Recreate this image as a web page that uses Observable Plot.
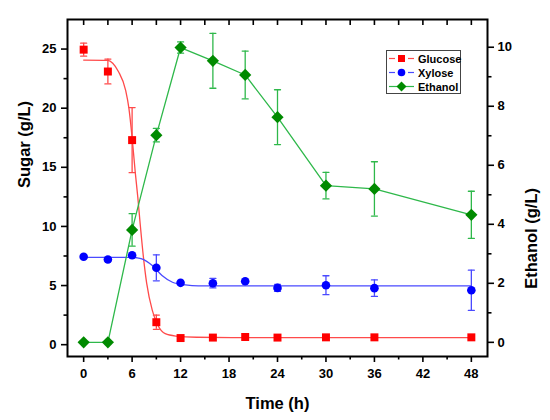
<!DOCTYPE html>
<html>
<head>
<meta charset="utf-8">
<script src="https://cdn.jsdelivr.net/npm/d3@7"></script>
<script src="https://cdn.jsdelivr.net/npm/@observablehq/plot@0.6"></script>
<style>
  html, body { margin: 0; padding: 0; background: #fff; }
  #wrap { position: relative; width: 550px; height: 420px; font-family: "Liberation Sans", Arial, sans-serif; }
  #legend { position: absolute; left: 386px; top: 50px; width: 73px; height: 42px; border: 1px solid #444; background: #fff; padding: 0; box-sizing: content-box; }
  #legend .row { position: absolute; left: 0; height: 14px; display: flex; align-items: center; font-weight: bold; font-size: 11px; color: #000; }
  #legend svg { margin-left: 2px; margin-right: 4px; }
</style>
</head>
<body>
<div id="wrap"></div>
<script>
// ---- data ----
const time = [0, 3, 6, 9, 12, 16, 20, 24, 30, 36, 48];
const glucose    = [24.95, 23.1, 17.3, 1.9, 0.56, 0.6, 0.65, 0.6, 0.62, 0.62, 0.62];
const glucoseErr = [0.55, 1.05, 2.75, 0.6, 0, 0, 0, 0, 0, 0, 0];
const xylose     = [7.43, 7.2, 7.56, 6.5, 5.23, 5.2, 5.37, 4.8, 5.03, 4.78, 4.6];
const xyloseErr  = [0, 0, 0, 1.1, 0, 0.4, 0, 0.3, 0.8, 0.7, 1.7];
const ethanol    = [0, 0, 3.81, 7.02, 9.99, 9.54, 9.06, 7.63, 5.31, 5.2, 4.32];
const ethanolErr = [0, 0, 0.55, 0.23, 0.19, 0.93, 0.81, 0.93, 0.45, 0.92, 0.8];

// fitted curves
const glucoseFitT = [0, 3, 3.6, 4.3, 5.2, 5.6, 6.0, 6.4, 6.7, 7.0, 7.4, 7.8, 8.5, 9.1, 10.1, 11.4, 14, 20, 48];
const glucoseFitV = [24.07, 24.05, 23.8, 23.1, 21.5, 20.0, 17.5, 14.5, 12.5, 10.2, 7.4, 5.2, 2.9, 1.77, 0.93, 0.73, 0.63, 0.6, 0.6];
const xyloseFitT = [0, 6, 6.6, 7.2, 8.5, 9.7, 11, 12.6, 14.2, 20, 48];
const xyloseFitV = [7.39, 7.39, 7.35, 7.26, 6.7, 5.85, 5.28, 5.06, 4.98, 4.97, 4.97];

const xTicks = [0, 6, 12, 18, 24, 30, 36, 42, 48];
const xMinor = [3, 9, 15, 21, 27, 33, 39, 45];
const sugarTicks = [0, 5, 10, 15, 20, 25];
const sugarMinor = [2.5, 7.5, 12.5, 17.5, 22.5];
const ethTicks = [0, 2, 4, 6, 8, 10];
const ethMinor = [1, 3, 5, 7, 9];

const seriesNames = ["Glucose", "Xylose", "Ethanol"];
const markerColors = ["#ff0000", "#0000ff", "#008a00"];
const lineColors = ["#ff4a4a", "#4a4aff", "#2eb84a"];

// ---- scales ----
const sugarDomain = [-1, 27.5];
const ethDomain = [-0.48, 10.94];
const toSugar = e => (e - ethDomain[0]) / (ethDomain[1] - ethDomain[0]) * (sugarDomain[1] - sugarDomain[0]) + sugarDomain[0];
const fromSugar = s => (s - sugarDomain[0]) / (sugarDomain[1] - sugarDomain[0]) * (ethDomain[1] - ethDomain[0]) + ethDomain[0];

const pts = (vals, errs) => time.map((t, i) => ({t, v: vals[i], e: errs[i]}));
const gluc = pts(glucose, glucoseErr);
const xyl = pts(xylose, xyloseErr);
const eth = time.map((t, i) => ({t, v: toSugar(ethanol[i]), lo: toSugar(ethanol[i] - ethanolErr[i]), hi: toSugar(ethanol[i] + ethanolErr[i]), e: ethanolErr[i]}));
const gFit = glucoseFitT.map((t, i) => ({t, v: glucoseFitV[i]}));
const xFit = xyloseFitT.map((t, i) => ({t, v: xyloseFitV[i]}));

const capShape = { draw(ctx, l) { ctx.moveTo(0, 0); ctx.lineTo(0, -l); } };

function errMarks(data, lo, hi, color) {
  const d = data.filter(p => p.e > 0);
  return [
    Plot.ruleX(d, {x: "t", y1: lo, y2: hi, stroke: color, strokeWidth: 1.3}),
    Plot.vector(d, {x: "t", y: lo, length: 6, rotate: 90, anchor: "middle", shape: capShape, stroke: color, strokeWidth: 1.3}),
    Plot.vector(d, {x: "t", y: hi, length: 6, rotate: 90, anchor: "middle", shape: capShape, stroke: color, strokeWidth: 1.3})
  ];
}

const chart = Plot.plot({
  width: 550,
  height: 420,
  marginLeft: 67,
  marginRight: 63,
  marginTop: 19,
  marginBottom: 64,
  style: {fontFamily: "'Liberation Sans', Arial, sans-serif", fontSize: "13px", fontWeight: "bold", color: "#000", background: "#fff"},
  x: {domain: [-2, 50], label: null},
  y: {domain: sugarDomain, label: null},
  marks: [
    // error bars
    ...errMarks(gluc, d => d.v - d.e, d => d.v + d.e, lineColors[0]),
    ...errMarks(xyl, d => d.v - d.e, d => d.v + d.e, lineColors[1]),
    ...errMarks(eth, "lo", "hi", lineColors[2]),
    // lines
    Plot.line(gFit, {x: "t", y: "v", stroke: lineColors[0], strokeWidth: 1.3, curve: "monotone-x"}),
    Plot.line(xFit, {x: "t", y: "v", stroke: lineColors[1], strokeWidth: 1.3, curve: "monotone-x"}),
    Plot.line(eth, {x: "t", y: "v", stroke: lineColors[2], strokeWidth: 1.3}),
    // markers
    Plot.dot(gluc, {x: "t", y: "v", symbol: "square", r: 4.5, fill: markerColors[0], stroke: "none"}),
    Plot.dot(xyl, {x: "t", y: "v", symbol: "circle", r: 4.3, fill: markerColors[1], stroke: "none"}),
    Plot.dot(eth, {x: "t", y: "v", symbol: "diamond2", r: 5.5, fill: markerColors[2], stroke: "none"}),
    // axes
    Plot.axisX({anchor: "bottom", ticks: xTicks, tickSize: 6, tickPadding: 6, strokeWidth: 1.6, label: null}),
    Plot.axisX({anchor: "bottom", ticks: xMinor, tickSize: 3.5, tickFormat: () => "", strokeWidth: 1.6, label: null}),
    Plot.axisX({anchor: "top", ticks: xTicks.concat(xMinor), tickSize: 5, dy: 5, tickFormat: () => "", strokeWidth: 1.6, label: null}),
    Plot.axisY({anchor: "left", ticks: sugarTicks, tickSize: 6, tickPadding: 5, strokeWidth: 1.6, label: null}),
    Plot.axisY({anchor: "left", ticks: sugarMinor, tickSize: 3.5, tickFormat: () => "", strokeWidth: 1.6, label: null}),
    Plot.axisY({anchor: "right", ticks: ethTicks.map(toSugar), tickFormat: s => String(Math.round(fromSugar(s))), tickSize: 6, tickPadding: 4, strokeWidth: 1.6, label: null}),
    Plot.axisY({anchor: "right", ticks: ethMinor.map(toSugar), tickSize: 3.5, tickFormat: () => "", strokeWidth: 1.6, label: null}),
    Plot.frame({stroke: "#000", strokeWidth: 2}),
    // axis titles
    Plot.text(["Time (h)"], {text: d => d, frameAnchor: "bottom", dy: 47, fontSize: 16.5, fontWeight: "bold", lineAnchor: "middle"}),
    Plot.text(["Sugar (g/L)"], {text: d => d, frameAnchor: "left", dx: -43, rotate: -90, fontSize: 16.5, fontWeight: "bold", lineAnchor: "middle"}),
    Plot.text(["Ethanol (g/L)"], {text: d => d, frameAnchor: "right", dx: 44, rotate: -90, fontSize: 16.5, fontWeight: "bold", lineAnchor: "middle"})
  ]
});

const wrap = document.getElementById("wrap");
wrap.appendChild(chart);

// legend
const legend = document.createElement("div");
legend.id = "legend";
const symbolsSvg = [
  c => `<rect x="9" y="2" width="7" height="7" fill="${c}"/>`,
  c => `<circle cx="12.5" cy="5.5" r="3.8" fill="${c}"/>`,
  c => `<path d="M12.5 0.5 L17.5 5.5 L12.5 10.5 L7.5 5.5 Z" fill="${c}"/>`
];
seriesNames.forEach((name, i) => {
  const row = document.createElement("div");
  row.className = "row";
  row.style.top = (i * 14 + 0.5) + "px";
  const line = i < 2
    ? `<line x1="0" y1="5.5" x2="6" y2="5.5" stroke="${lineColors[i]}" stroke-width="1.2"/><line x1="19" y1="5.5" x2="25" y2="5.5" stroke="${lineColors[i]}" stroke-width="1.2"/>`
    : `<line x1="0" y1="5.5" x2="25" y2="5.5" stroke="${lineColors[i]}" stroke-width="1.2"/>`;
  row.innerHTML = `<svg width="25" height="11">${line}${symbolsSvg[i](markerColors[i])}</svg><span>${name}</span>`;
  legend.appendChild(row);
});
wrap.appendChild(legend);
</script>
</body>
</html>
